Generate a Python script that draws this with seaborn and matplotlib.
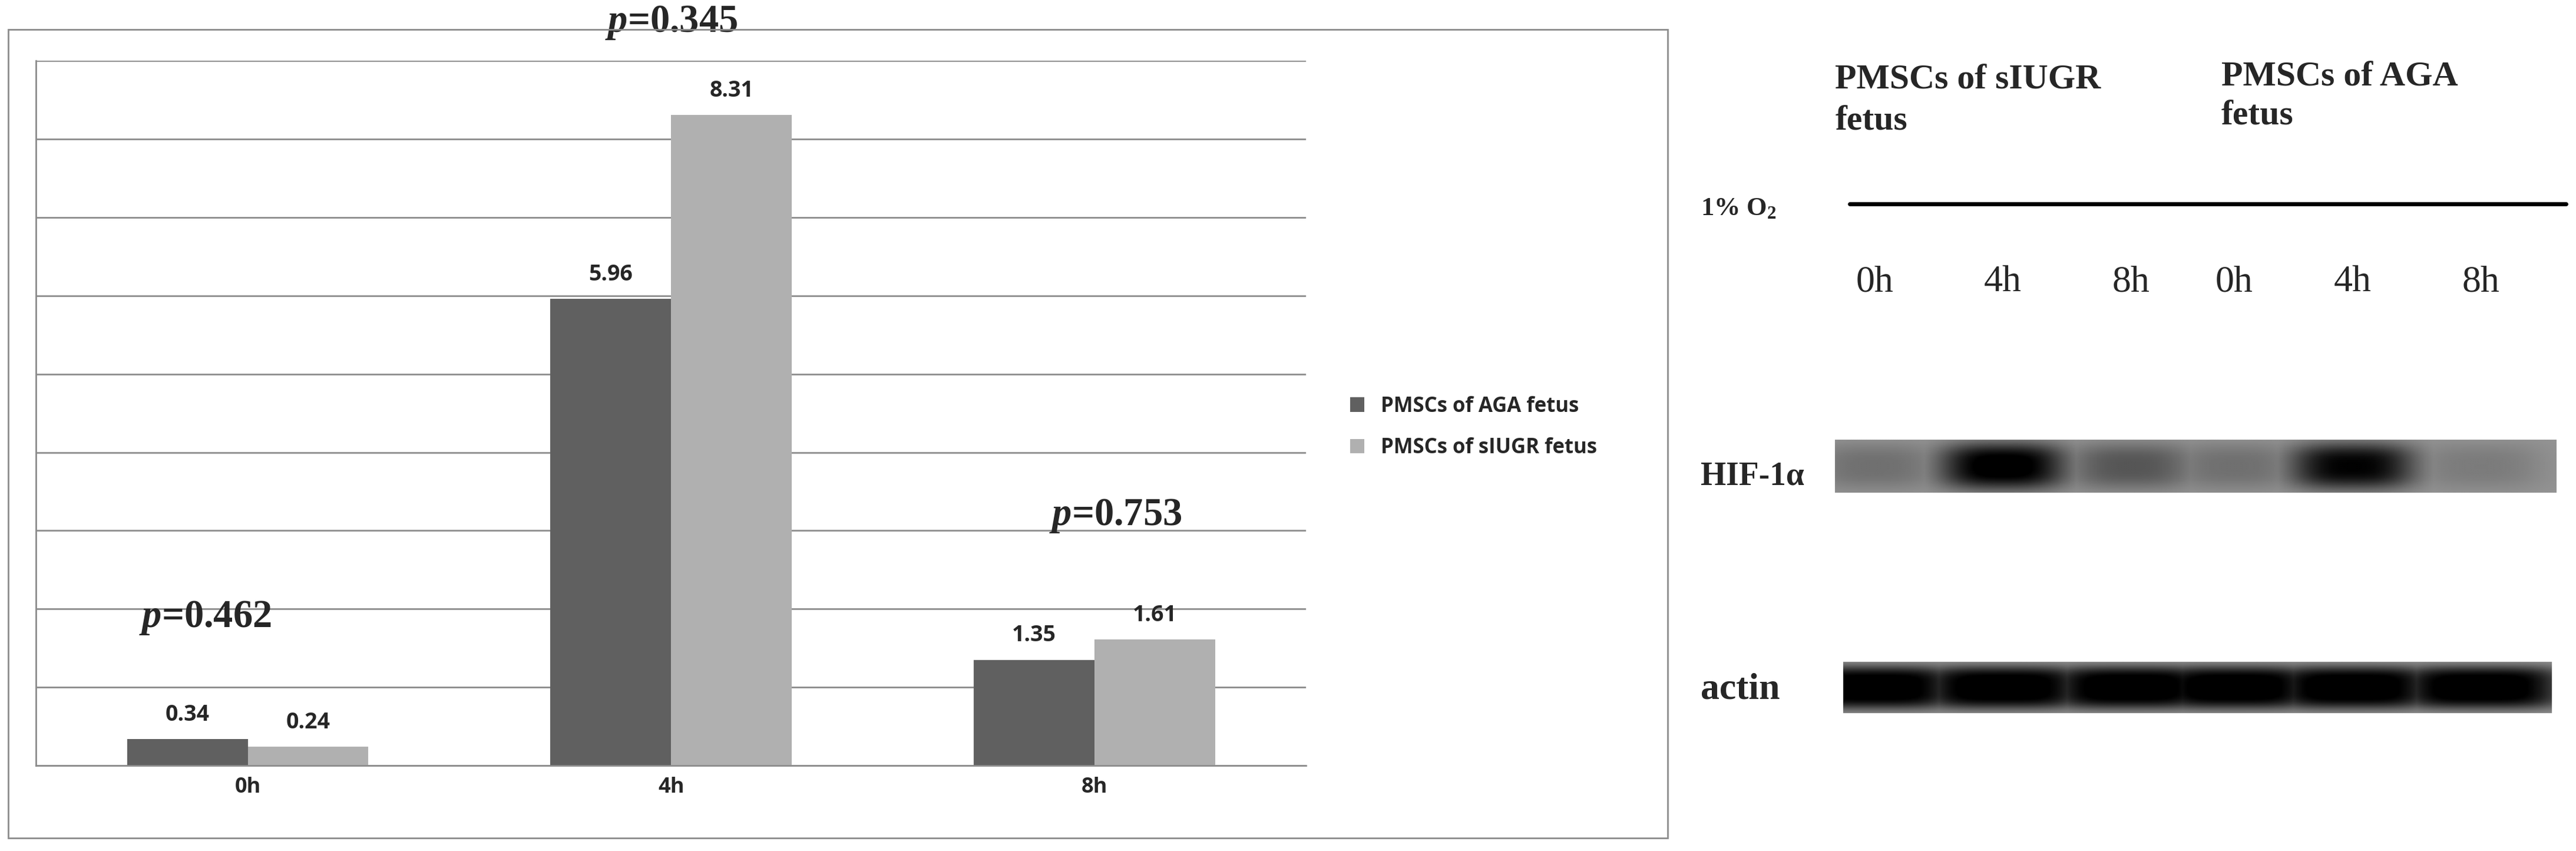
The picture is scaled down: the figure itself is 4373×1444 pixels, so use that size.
import numpy as np
import pandas as pd
import matplotlib
matplotlib.use("Agg")
import matplotlib.pyplot as plt
import seaborn as sns
from matplotlib.patches import Rectangle

times = ["0h", "4h", "8h"]
aga = [0.34, 5.96, 1.35]
siugr = [0.24, 8.31, 1.61]
groups = ["PMSCs of AGA fetus", "PMSCs of sIUGR fetus"]
pvals = ["0.462", "0.345", "0.753"]
p_y = [1.65, 9.25, 2.95]
p_dx = [-0.1, 0.0, 0.05]
lane_labels = ["0h", "4h", "8h", "0h", "4h", "8h"]
hif_intensity = [0.22, 1.0, 0.38, 0.22, 0.9, 0.15]
actin_intensity = [1.0, 1.0, 1.0, 1.0, 1.0, 1.0]

sns.set_theme(style="white")
plt.rcParams['font.family'] = ['Open Sans', 'DejaVu Sans']
plt.rcParams['mathtext.fontset'] = 'custom'
plt.rcParams['mathtext.it'] = 'Liberation Serif:italic:bold'
plt.rcParams['mathtext.rm'] = 'Liberation Serif:bold'

W, H = 1568, 518
fig = plt.figure(figsize=(43.73, 14.44), dpi=100)

df = pd.DataFrame({"time": times * 2, "value": aga + siugr,
                   "group": [groups[0]] * 3 + [groups[1]] * 3})

ax = fig.add_axes([22 / W, 1 - 466 / H, (795 - 22) / W, (466 - 37) / H])
sns.barplot(data=df, x="time", y="value", hue="group", order=times,
            hue_order=groups, palette=["#606060", "#b0b0b0"], width=0.57,
            saturation=1, ax=ax, edgecolor="none")
ax.set_ylim(0, 9)
ax.set_yticks(range(10))
ax.set_yticklabels([])
ax.yaxis.grid(True, color="#8c8c8c", linewidth=2)
ax.set_axisbelow(True)
ax.set_xlabel("")
ax.set_ylabel("")
for s in ["top", "right"]:
    ax.spines[s].set_visible(False)
ax.spines["left"].set_color("#8c8c8c")
ax.spines["bottom"].set_color("#8c8c8c")
ax.spines["left"].set_linewidth(2)
ax.spines["bottom"].set_linewidth(2)
ax.tick_params(axis="x", length=0, labelsize=26, pad=14)
for t in ax.get_xticklabels():
    t.set_fontweight("bold")
ax.set_xlim(-0.5, 2.5)
for c in ax.containers:
    ax.bar_label(c, fmt="%.2f", padding=16, fontsize=27, fontweight="bold")
for i, (p, y, dx) in enumerate(zip(pvals, p_y, p_dx)):
    ax.text(i + dx, y, r"$\mathit{p}$" + "=" + p, ha="center", va="bottom",
            fontsize=48, fontweight="bold", family="Liberation Serif", clip_on=False)
leg = ax.legend(loc="center left", bbox_to_anchor=(1.02, 0.48), frameon=False,
                fontsize=25, handlelength=0.7, handleheight=0.7, labelspacing=1.0)
for t in leg.get_texts():
    t.set_fontweight("bold")

fig.patches.append(Rectangle((5 / W, 1 - 510 / H), (1015 - 5) / W, (510 - 18) / H,
                             transform=fig.transFigure, fill=False,
                             edgecolor="#8c8c8c", linewidth=2))

# Western blot panel
bx = fig.add_axes([0, 0, 1, 1], facecolor="none")
bx.set_xlim(0, W)
bx.set_ylim(H, 0)
bx.axis("off")
serif = "Liberation Serif"
bx.text(1117, 49, "PMSCs of sIUGR", family=serif, fontsize=43, fontweight="bold", va="center")
bx.text(1117, 74, "fetus", family=serif, fontsize=43, fontweight="bold", va="center")
bx.text(1352, 47, "PMSCs of AGA", family=serif, fontsize=43, fontweight="bold", va="center")
bx.text(1352, 71, "fetus", family=serif, fontsize=43, fontweight="bold", va="center")
bx.text(1035, 127, "1% O$_2$", family=serif, fontsize=32, fontweight="bold", va="center")
bx.plot([1126, 1562], [124, 124], color="black", linewidth=5)
lane_x = [1141, 1219, 1297, 1360, 1432, 1510]
for x, l in zip(lane_x, lane_labels):
    bx.text(x, 172, l, family=serif, fontsize=46, ha="center", va="center")
bx.text(1035, 290, "HIF-1α", family=serif, fontsize=40, fontweight="bold", va="center")
bx.text(1035, 420, "actin", family=serif, fontsize=46, fontweight="bold", va="center")


def band_image(intens, x0, x1, y0, y1, sx, sy, power):
    nx, ny = 600, 60
    xs = np.linspace(x0, x1, nx)
    ys = np.linspace(y0, y1, ny)
    X, Y = np.meshgrid(xs, ys)
    dark = np.zeros_like(X)
    yc = (y0 + y1) / 2
    for cx, a in zip(lane_x, intens):
        g = np.exp(-(np.abs((X - cx) / sx) ** power + np.abs((Y - yc) / sy) ** power))
        dark = np.maximum(dark, a * g)
    img = 0.58 - 0.58 * np.clip(dark * 1.1, 0, 1)
    bx.imshow(img, extent=(x0, x1, y1, y0), cmap="gray", vmin=0, vmax=1,
              aspect="auto", interpolation="bilinear", zorder=1)


band_image(hif_intensity, 1117, 1556, 268, 300, 38, 14, 3)
band_image(actin_intensity, 1122, 1553, 403, 434, 50, 13, 4)
bx.set_xlim(0, W)
bx.set_ylim(H, 0)

fig.savefig("out.png", dpi=100)
